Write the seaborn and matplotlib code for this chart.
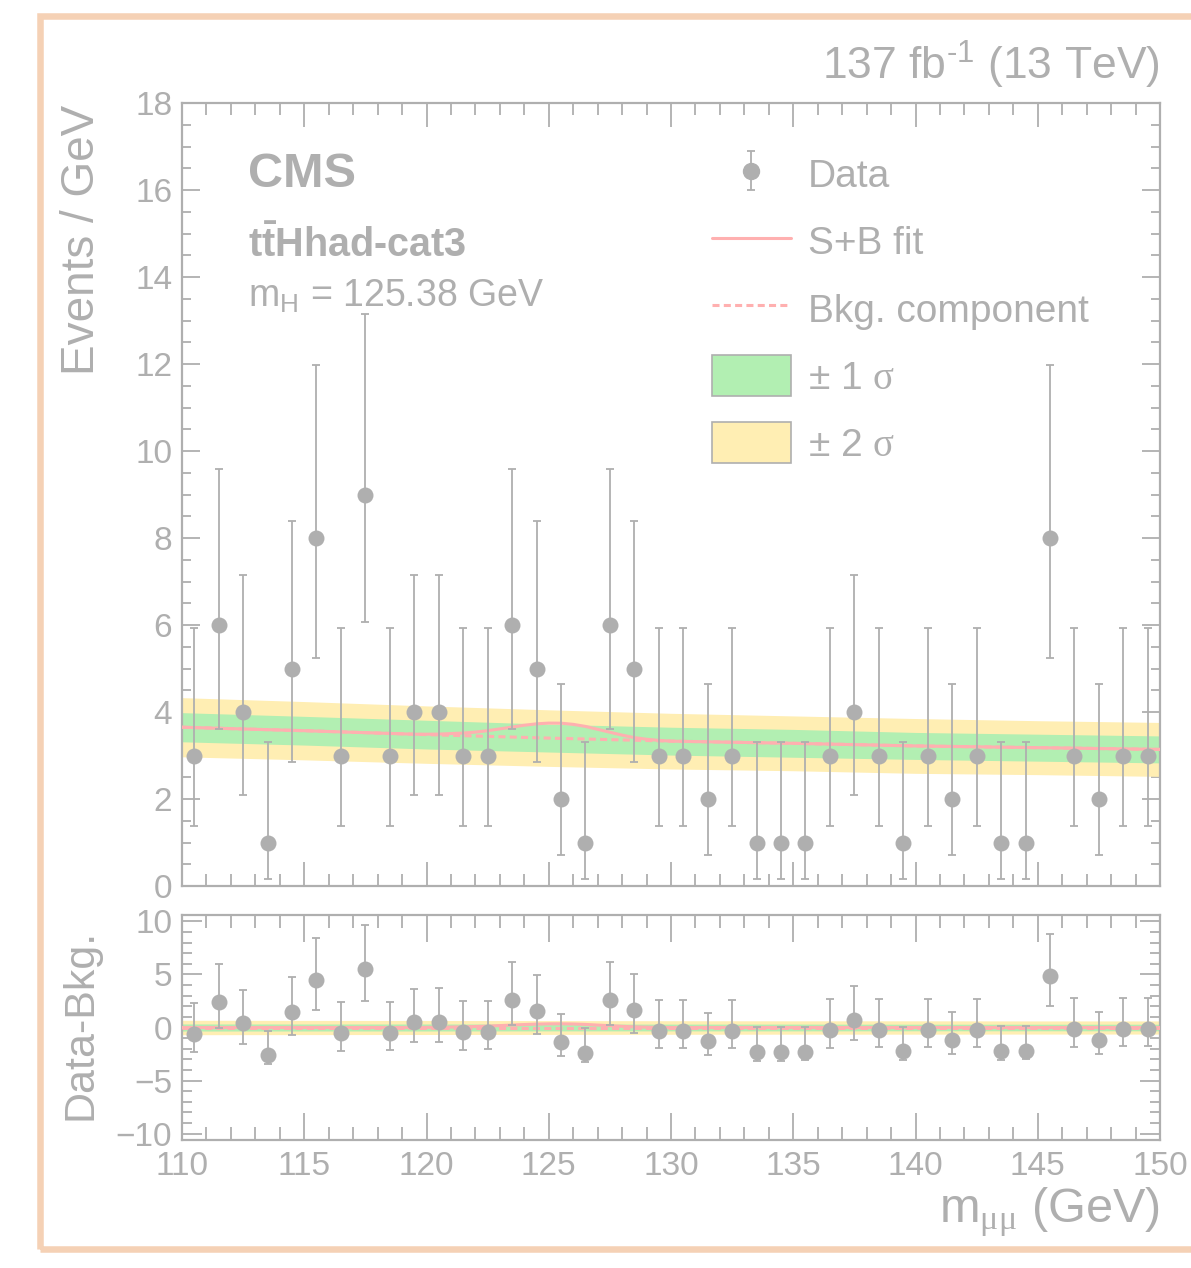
import numpy as np
import pandas as pd
import matplotlib
matplotlib.use("Agg")
import matplotlib.pyplot as plt
from matplotlib.patches import Rectangle, Patch
from matplotlib.lines import Line2D
from matplotlib.ticker import MultipleLocator
import seaborn as sns

sns.set_theme(style="white")
plt.rcParams["font.family"] = ["Liberation Sans", "DejaVu Sans"]
plt.rcParams["mathtext.fontset"] = "custom"
plt.rcParams["mathtext.rm"] = "Liberation Sans"
plt.rcParams["mathtext.it"] = "Liberation Sans"
plt.rcParams["mathtext.bf"] = "Liberation Sans:bold"
plt.rcParams["mathtext.sf"] = "Liberation Serif"

GREY = "#afafaf"
PINK = "#ffb0b0"
GREEN = "#b2efb2"
YELLOW = "#ffeeb3"
PEACH = "#f5d1b5"

# ---- observed events per 1 GeV bin ----
bin_centers = np.arange(110.5, 150.0, 1.0)
counts = [3, 6, 4, 1, 5, 8, 3, 9, 3, 4,
          4, 3, 3, 6, 5, 2, 1, 6, 5, 3,
          3, 2, 3, 1, 1, 1, 3, 4, 3, 1,
          3, 2, 3, 1, 1, 8, 3, 2, 3, 3]

# 68% Poisson intervals for the observed counts
poisson_lo = {1: 0.17, 2: 0.71, 3: 1.37, 4: 2.09, 5: 2.84, 6: 3.62, 8: 5.23, 9: 6.06}
poisson_hi = {1: 3.30, 2: 4.64, 3: 5.92, 4: 7.16, 5: 8.38, 6: 9.58, 8: 11.98, 9: 13.15}

# ---- fitted background and its uncertainty bands ----
fit_mass = [110, 115, 120, 125, 130, 135, 140, 145, 150]
bkg_fit = [3.65, 3.57, 3.48, 3.40, 3.33, 3.28, 3.22, 3.18, 3.14]
band_1sigma = [0.335, 0.33, 0.33, 0.32, 0.32, 0.32, 0.31, 0.31, 0.31]
band_2sigma = [0.68, 0.67, 0.66, 0.65, 0.64, 0.63, 0.63, 0.62, 0.62]

# ---- fitted signal component ----
sig_mass = [119.5, 120.0, 120.5, 121.0, 121.5, 122.0, 122.5, 123.0, 123.5,
            124.0, 124.5, 125.0, 125.5, 126.0, 126.5, 127.0, 127.5, 128.0,
            128.5, 129.0, 129.5, 130.0]
sig_fit = [0.0, 0.01, 0.02, 0.04, 0.06, 0.09, 0.13, 0.18, 0.23,
           0.28, 0.32, 0.345, 0.35, 0.33, 0.29, 0.23, 0.17, 0.11,
           0.06, 0.03, 0.01, 0.0]

counts = np.array(counts, dtype=float)
err_lo = np.array([c - poisson_lo[int(c)] for c in counts])
err_hi = np.array([poisson_hi[int(c)] - c for c in counts])

grid = np.array(sorted(set(fit_mass) | set(sig_mass)), dtype=float)
bkg_grid = np.interp(grid, fit_mass, bkg_fit)
sig_grid = np.interp(grid, sig_mass, sig_fit, left=0.0, right=0.0)
curves = pd.DataFrame({"mass": grid, "bkg": bkg_grid,
                       "sb": bkg_grid + sig_grid, "sig": sig_grid})

bkg_at_bins = np.interp(bin_centers, fit_mass, bkg_fit)
residual = counts - bkg_at_bins
points = pd.DataFrame({"mass": bin_centers, "events": counts, "resid": residual})

W, H = 1191, 1268
fig = plt.figure(figsize=(W / 100, H / 100), dpi=100)
fig.patch.set_facecolor("white")


def frac_box(x0, y0, x1, y1):
    return [x0 / W, 1 - y1 / H, (x1 - x0) / W, (y1 - y0) / H]


ax = fig.add_axes(frac_box(182, 103, 1160, 886))
axr = fig.add_axes(frac_box(182, 915, 1160, 1140), sharex=ax)

dash = (0, (2.3, 1.4))
lw_fit = 2.2
ms = 11.5
eb_kw = dict(ecolor=GREY, elinewidth=1.3, capsize=3.2, capthick=1.3)

# ---- main panel ----
fm = np.array(fit_mass, dtype=float)
b = np.array(bkg_fit)
s1 = np.array(band_1sigma)
s2 = np.array(band_2sigma)
ax.fill_between(fm, b - s2, b + s2, color=YELLOW, lw=0, zorder=1)
ax.fill_between(fm, b - s1, b + s1, color=GREEN, lw=0, zorder=2)
sns.lineplot(data=curves, x="mass", y="bkg", ax=ax, color=PINK, lw=lw_fit,
             linestyle=dash, sort=False, estimator=None, zorder=3)
sns.lineplot(data=curves, x="mass", y="sb", ax=ax, color=PINK, lw=lw_fit,
             sort=False, estimator=None, zorder=4)
ax.errorbar(bin_centers, counts, yerr=[err_lo, err_hi], fmt="none",
            zorder=5, **eb_kw)
sns.scatterplot(data=points, x="mass", y="events", ax=ax, color=GREY,
                s=ms ** 2, linewidth=0, zorder=6)

ax.set_xlim(110, 150)
ax.set_ylim(0, 18)

# ---- ratio panel ----
zeros = np.zeros_like(fm)
axr.fill_between(fm, zeros - s2, zeros + s2, color=YELLOW, lw=0, zorder=1)
axr.fill_between(fm, zeros - s1, zeros + s1, color=GREEN, lw=0, zorder=2)
axr.axhline(0, color=PINK, lw=lw_fit, linestyle=dash, zorder=3)
sns.lineplot(data=curves, x="mass", y="sig", ax=axr, color=PINK, lw=lw_fit,
             sort=False, estimator=None, zorder=4)
axr.errorbar(bin_centers, residual, yerr=[err_lo, err_hi], fmt="none",
             zorder=5, **eb_kw)
sns.scatterplot(data=points, x="mass", y="resid", ax=axr, color=GREY,
                s=ms ** 2, linewidth=0, zorder=6)
axr.set_ylim(-10.6, 10.6)

# ---- axes styling ----
for a in (ax, axr):
    a.set_xlabel("")
    a.set_ylabel("")
    a.set_facecolor("white")
    for sp in a.spines.values():
        sp.set_color(GREY)
        sp.set_linewidth(1.6)
    a.xaxis.set_major_locator(MultipleLocator(5))
    a.xaxis.set_minor_locator(MultipleLocator(1))
    a.tick_params(which="both", direction="in", top=True, right=True,
                  bottom=True, left=True, color=GREY, labelcolor=GREY,
                  width=1.3, labelsize=24)

ax.yaxis.set_major_locator(MultipleLocator(2))
ax.yaxis.set_minor_locator(MultipleLocator(0.5))
ax.tick_params(axis="x", which="major", length=17, labelbottom=False)
ax.tick_params(axis="x", which="minor", length=8.6)
ax.tick_params(axis="y", which="major", length=13, pad=7)
ax.tick_params(axis="y", which="minor", length=6.5)

axr.yaxis.set_major_locator(MultipleLocator(5))
axr.yaxis.set_minor_locator(MultipleLocator(1))
axr.tick_params(axis="x", which="major", length=19.5, pad=8)
axr.tick_params(axis="x", which="minor", length=9.5)
axr.tick_params(axis="y", which="major", length=14.5, pad=7)
axr.tick_params(axis="y", which="minor", length=7)
axr.set_yticks([-10, -5, 0, 5, 10])
axr.set_yticklabels(["\u221210", "\u22125", "0", "5", "10"])

# ---- legend ----
data_handle = ax.errorbar([np.nan], [np.nan], yerr=[[1.0], [1.0]], fmt="o",
                          color=GREY, ms=ms, **eb_kw)
handles = [
    data_handle,
    Line2D([], [], color=PINK, lw=lw_fit),
    Line2D([], [], color=PINK, lw=lw_fit, linestyle=dash),
    Patch(facecolor=GREEN, edgecolor=GREY, lw=1.2),
    Patch(facecolor=YELLOW, edgecolor=GREY, lw=1.2),
]
labels = ["Data", "S+B fit", "Bkg. component",
          "\u00b1 1 $\\mathsf{\\sigma}$", "\u00b1 2 $\\mathsf{\\sigma}$"]
leg = ax.legend(handles, labels, loc="upper left",
                bbox_to_anchor=((712 - 182) / 978, 1 - (154 - 103) / 783),
                frameon=False, fontsize=28, handlelength=2.03,
                handleheight=1.23, labelspacing=0.66, handletextpad=0.44,
                borderpad=0, borderaxespad=0)
for t in leg.get_texts():
    t.set_color(GREY)

# ---- text ----
def ftext(x, y, s, **kw):
    fig.text(x / W, 1 - y / H, s, color=GREY, **kw)


ftext(248, 187, "CMS", fontsize=35, fontweight="bold", va="baseline")
ftext(248, 257, "$\\mathbf{t\\bar{t}}$Hhad-cat3", fontsize=28.5,
      fontweight="bold", va="baseline")
ftext(248, 307, "m$_{\\mathrm{H}}$ = 125.38 GeV", fontsize=27, va="baseline")
ftext(1160, 80, "137 fb$^{\u20101}$ (13 TeV)", fontsize=32, ha="right",
      va="baseline")
ftext(82, 105, "Events / GeV", fontsize=33, rotation=90, ha="center",
      va="top")
ftext(81, 1024, "Data-Bkg.", fontsize=31, rotation=90, ha="center",
      va="center")
ftext(1160, 1222, "m$_{\\mathsf{\\mu\\mu}}$ (GeV)", fontsize=35, ha="right",
      va="baseline")

# ---- outer frame ----
fig.patches.append(Rectangle((40 / W, 1 - 1248.5 / H), (1210 - 40) / W,
                             (1248.5 - 15.5) / H, transform=fig.transFigure,
                             fill=False, edgecolor=PEACH, lw=4.7,
                             figure=fig))

fig.savefig("out.png", dpi=100)
